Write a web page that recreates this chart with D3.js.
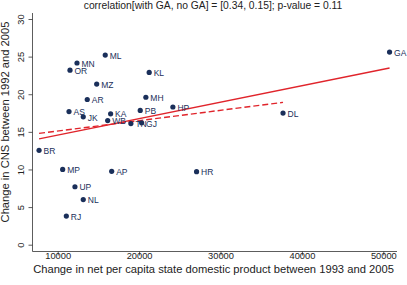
<!DOCTYPE html>
<html>
<head>
<meta charset="utf-8">
<script src="https://cdn.jsdelivr.net/npm/d3@7"></script>
<style>
  body { margin: 0; background: #fff; }
  svg { display: block; font-family: "Liberation Sans", Arial, sans-serif; }
</style>
</head>
<body>
<div id="container"></div>
<script>
// state codes and values
const states = ["GA","ML","MN","OR","KL","MZ","AR","MH","AS","PB","HP","JK","KA","WB","TN","GJ","DL","BR","MP","AP","HR","UP","NL","RJ"];
const gdpChange = [50770,15840,12370,11510,21240,14790,13630,20830,11390,20140,24150,13140,16500,16140,18990,20310,37680,7710,10610,16630,27060,12120,13140,11060];
const cnsChange = [25.6,25.2,24.15,23.2,22.9,21.35,19.3,19.6,17.7,17.85,18.3,17.0,17.4,16.5,16.1,16.2,17.5,12.55,10.0,9.75,9.7,7.7,6.0,3.8];

// fitted lines (end points), with GA solid and without GA dashed
const fitWithGA = [[7710, 14.07], [50770, 23.48]];
const fitNoGA = [[7710, 14.79], [37680, 18.92]];

const xTicks = [10000, 20000, 30000, 40000, 50000];
const yTicks = [0, 5, 10, 15, 20, 25, 30];

const W = 407, H = 285;
const plot = {left: 32.5, right: 397, top: 13, bottom: 251.5};

const svg = d3.select("#container")
  .append("svg")
    .attr("width", W)
    .attr("height", H);

const x = d3.scaleLinear()
  .domain([10000, 50000])
  .range([57.7, 383.3]);

const y = d3.scaleLinear()
  .domain([0, 30])
  .range([244.7, 19]);

const axisColor = "#333";

// y axis
const yAxis = svg.append("g")
  .attr("transform", `translate(${plot.left},0)`)
  .call(d3.axisLeft(y).tickValues(yTicks).tickSize(4).tickSizeOuter(0));
yAxis.select(".domain").attr("d", `M0,${plot.top}V${plot.bottom}`).attr("stroke", axisColor).attr("stroke-width", 0.8);
yAxis.selectAll(".tick line").attr("stroke", axisColor).attr("stroke-width", 0.8);
yAxis.selectAll(".tick text")
  .attr("x", 0).attr("dy", 0)
  .attr("transform", "translate(-9,0) rotate(-90)")
  .style("text-anchor", "middle")
  .style("font-size", "9.3px")
  .attr("fill", "#222");

// x axis
const xAxis = svg.append("g")
  .attr("transform", `translate(0,${plot.bottom})`)
  .call(d3.axisBottom(x).tickValues(xTicks).tickFormat(d3.format("d")).tickSize(4).tickSizeOuter(0));
xAxis.select(".domain").attr("d", `M${plot.left},0H${plot.right}`).attr("stroke", axisColor).attr("stroke-width", 0.8);
xAxis.selectAll(".tick line").attr("stroke", axisColor).attr("stroke-width", 0.8);
xAxis.selectAll(".tick text")
  .attr("y", 0).attr("dy", 0)
  .attr("transform", "translate(0,7.6)")
  .style("font-size", "9.3px")
  .attr("fill", "#222");

// titles
svg.append("text")
  .attr("x", 213).attr("y", 9)
  .attr("text-anchor", "middle")
  .style("font-size", "10.3px")
  .attr("fill", "#222")
  .text("correlation[with GA, no GA] = [0.34, 0.15]; p-value = 0.11");

svg.append("text")
  .attr("x", 213.5).attr("y", 273)
  .attr("text-anchor", "middle")
  .style("font-size", "11.2px")
  .attr("fill", "#222")
  .text("Change in net per capita state domestic product between 1993 and 2005");

svg.append("text")
  .attr("transform", "translate(9,122) rotate(-90)")
  .attr("text-anchor", "middle")
  .style("font-size", "11.2px")
  .attr("fill", "#222")
  .text("Change in CNS between 1992 and 2005");

// fit lines
const line = d3.line().x(d => x(d[0])).y(d => y(d[1]));
svg.append("path")
  .datum(fitWithGA)
  .attr("d", line)
  .attr("stroke", "#e0242b")
  .attr("stroke-width", 1.4)
  .attr("fill", "none");
svg.append("path")
  .datum(fitNoGA)
  .attr("d", line)
  .attr("stroke", "#e0242b")
  .attr("stroke-width", 1.4)
  .attr("stroke-dasharray", "6,3")
  .attr("fill", "none");

// points and labels
const pts = states.map((s, i) => ({s: s, gx: gdpChange[i], cy: cnsChange[i]}));
const navy = "#1a2f5a";
svg.selectAll("circle.pt")
  .data(pts)
  .join("circle")
    .attr("class", "pt")
    .attr("cx", d => x(d.gx))
    .attr("cy", d => y(d.cy))
    .attr("r", 2.6)
    .attr("fill", navy);

svg.selectAll("text.lab")
  .data(pts)
  .join("text")
    .attr("class", "lab")
    .attr("x", d => x(d.gx) + 4.5)
    .attr("y", d => y(d.cy) + 3.7)
    .style("font-size", "8.5px")
    .attr("fill", navy)
    .text(d => d.s);
</script>
</body>
</html>
